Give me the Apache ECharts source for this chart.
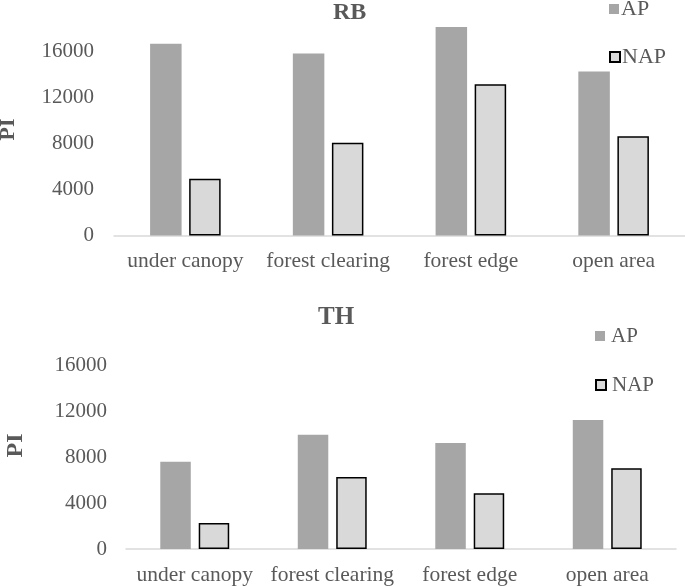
<!DOCTYPE html>
<html><head><meta charset="utf-8">
<script src="https://cdn.jsdelivr.net/npm/echarts@6/dist/echarts.min.js"></script>
<style>html,body{margin:0;padding:0;background:#fff}#c{width:685px;height:587px}</style>
</head><body><div id="c"></div>
<script>
const categories = ['under canopy', 'forest clearing', 'forest edge', 'open area'];
const rbAP  = [16720, 15850, 18170, 14290];
const rbNAP = [4940, 8080, 13190, 8660];
const thAP  = [7610, 9960, 9230, 11240];
const thNAP = [2270, 6270, 4850, 7030];
const yTicks = [0, 4000, 8000, 12000, 16000];
const panelTitles = ['RB', 'TH'];
const seriesNames = ['AP', 'NAP'];
const yName = 'PI';

const FONT = 'Liberation Serif';
const TXT = '#595959';
const apStyle = { color: '#a6a6a6' };
const napStyle = { color: '#d9d9d9', borderColor: '#000', borderWidth: 1.5 };

function yAxis(idx, margin) {
  return {
    gridIndex: idx, type: 'value', min: 0, max: 20000, interval: 4000,
    axisLine: { show: false }, axisTick: { show: false }, splitLine: { show: false },
    axisLabel: { fontFamily: FONT, fontSize: 21, color: TXT, margin: margin,
      formatter: v => yTicks.includes(v) ? String(v) : '' }
  };
}
function xAxis(idx) {
  return {
    gridIndex: idx, type: 'category', data: categories,
    axisLine: { lineStyle: { color: '#d9d9d9', width: 1.5 } },
    axisTick: { show: false },
    axisLabel: { fontFamily: FONT, fontSize: 21.5, color: TXT, margin: 15, interval: 0 }
  };
}
function legend(name, left, top, size, gapPad) {
  return {
    data: [name], left: left, top: top, icon: 'rect', itemWidth: 10, itemHeight: 10,
    itemGap: 0, padding: 0, selectedMode: false,
    textStyle: { fontFamily: FONT, fontSize: size, lineHeight: 22, color: TXT, padding: [0,0,0,gapPad] }
  };
}
function pi(x, y, size) {
  return { type: 'text', x: x, y: y, rotation: Math.PI / 2,
    style: { text: yName, fontFamily: FONT, fontSize: size, fontWeight: 'bold', fill: TXT,
      align: 'center', verticalAlign: 'middle' } };
}

const chart = echarts.init(document.getElementById('c'));
chart.setOption({
  animation: false,
  title: [
    { text: panelTitles[0], left: 333, top: 1, padding: 0, textStyle: { fontFamily: FONT, fontSize: 24, fontWeight: 'bold', color: TXT } },
    { text: panelTitles[1], left: 318, top: 305, padding: 0, textStyle: { fontFamily: FONT, fontSize: 25, fontWeight: 'bold', color: TXT } }
  ],
  legend: [
    legend(seriesNames[0], 609, -2, 22, -3),
    legend(seriesNames[1], 609, 46, 22, -3),
    legend(seriesNames[0], 595, 325, 21, 1),
    legend(seriesNames[1], 595, 374, 21, 1)
  ],
  graphic: [ pi(8, 129.5, 22), pi(15.7, 445.5, 24) ],
  grid: [
    { left: 114, right: 0, top: 6, height: 229.5, outerBoundsMode: 'none', containLabel: false },
    { left: 126, right: 9, top: 319.5, height: 229.5, outerBoundsMode: 'none', containLabel: false }
  ],
  xAxis: [xAxis(0), xAxis(1)],
  yAxis: [yAxis(0, 20), yAxis(1, 19)],
  series: [
    { name: seriesNames[0], type: 'bar', xAxisIndex: 0, yAxisIndex: 0, data: rbAP, itemStyle: apStyle, barWidth: 31.5, barGap: '24%' },
    { name: seriesNames[1], type: 'bar', xAxisIndex: 0, yAxisIndex: 0, data: rbNAP, itemStyle: napStyle, barWidth: 31.5, barGap: '24%' },
    { name: seriesNames[0], type: 'bar', xAxisIndex: 1, yAxisIndex: 1, data: thAP, itemStyle: apStyle, barWidth: 30.5, barGap: '26%' },
    { name: seriesNames[1], type: 'bar', xAxisIndex: 1, yAxisIndex: 1, data: thNAP, itemStyle: napStyle, barWidth: 30.5, barGap: '26%' }
  ]
});
</script></body></html>
